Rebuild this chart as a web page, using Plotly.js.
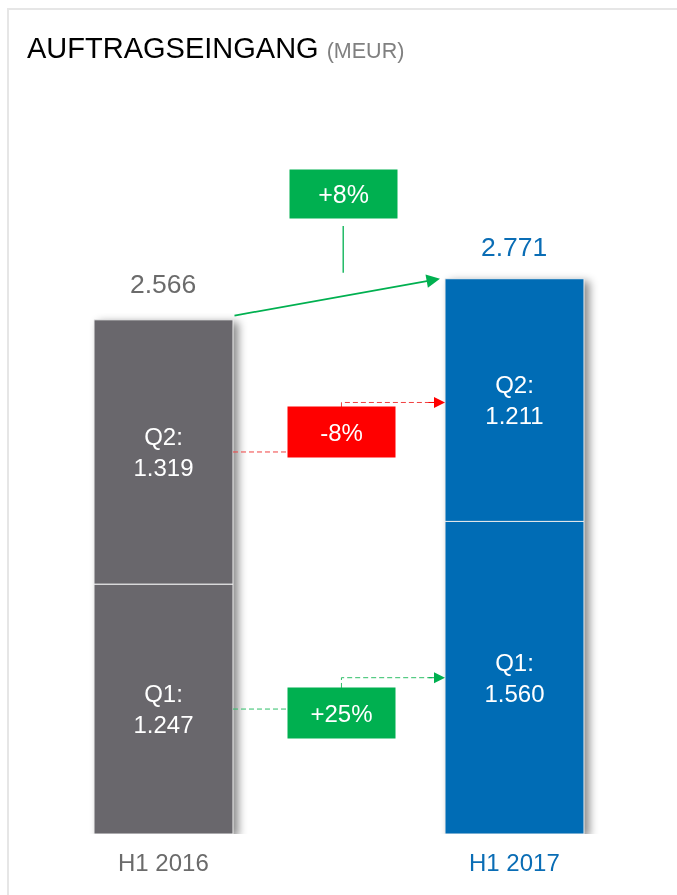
<!DOCTYPE html>
<html>
<head>
<meta charset="utf-8">
<script src="https://cdn.plot.ly/plotly-3.0.1.min.js"></script>
<style>
html,body{margin:0;padding:0;background:#fff;}
#wrap{position:relative;width:677px;height:895px;overflow:hidden;}
#chart{position:absolute;left:0;top:0;width:677px;height:895px;}
#frame{position:absolute;left:7px;top:8px;right:0;bottom:0;border-left:2px solid #e6e6e6;border-top:2px solid #e6e6e6;pointer-events:none;}
.barlayer{filter:drop-shadow(5px 3px 4px rgba(0,0,0,0.45));}
</style>
</head>
<body>
<div id="wrap"><div id="chart"></div><div id="frame"></div></div>
<script>
// ---- data (MEUR) ----
const periods = ['H1 2016', 'H1 2017'];
const q1 = [1247, 1560];
const q2 = [1319, 1211];
const quarterNames = ['Q1:', 'Q2:'];
const titleMain = 'AUFTRAGSEINGANG';
const titleUnit = '(MEUR)';

// ---- styling ----
const FONT = 'Liberation Sans, Arial, sans-serif';
const barColors = ['#69676c', '#006cb5'];
const labelColors = ['#6b6b6b', '#0a6db5'];
const GREEN = '#00b050';
const RED = '#ff0000';
const pos = v => v >= 0;

const totals = q1.map((v, i) => v + q2[i]);
const fmt = v => Math.floor(v / 1000) + '.' + String(v % 1000).padStart(3, '0');
const pct = (a, b) => { const p = Math.round((b / a - 1) * 100); return (p > 0 ? '+' : '') + p + '%'; };

const yMax = 4162;            // plot range
const pxY = 834 / yMax;       // px per unit
const barW = 0.396;
const half = barW / 2;
const boxW = 107, boxH = 50;
const boxHalfX = boxW / 2 / 351;
const boxHalfY = boxH / 2 / pxY;

const changes = [
  { from: q1[0], to: q1[1], yFrom: q1[0] / 2, yTo: q1[1] / 2, boxY: 604, boxX: 0.507 },
  { from: q2[0], to: q2[1], yFrom: q1[0] + q2[0] / 2, yTo: q1[1] + q2[1] / 2 - 12, boxY: 2006, boxX: 0.507 }
];

const traces = [
  {
    type: 'bar', x: periods, y: q1, base: [0, 0], width: barW,
    marker: { color: barColors, line: { color: '#eeeeee', width: 1 }, opacity: 1 },
    texttemplate: quarterNames[0] + '<br>%{y:,.0f}', textposition: 'inside', insidetextanchor: 'middle',
    textangle: 0, constraintext: 'none',
    textfont: { color: '#ffffff', size: 24, family: FONT }, hoverinfo: 'skip'
  },
  {
    type: 'bar', x: periods, y: q2, base: q1, width: barW,
    marker: { color: barColors, line: { color: '#eeeeee', width: 1 }, opacity: 1 },
    texttemplate: quarterNames[1] + '<br>%{y:,.0f}', textposition: 'inside', insidetextanchor: 'middle',
    textangle: 0, constraintext: 'none',
    textfont: { color: '#ffffff', size: 24, family: FONT }, hoverinfo: 'skip'
  }
];

const annotations = [];
const shapes = [];

// totals above bars
const totShift = [19, 15];
totals.forEach((t, i) => {
  annotations.push({ x: i, y: t, xref: 'x', yref: 'y', text: fmt(t), showarrow: false,
    yanchor: 'bottom', yshift: totShift[i], font: { size: 26.5, color: labelColors[i], family: FONT } });
});
// category labels
periods.forEach((p, i) => {
  annotations.push({ x: i, y: 0, xref: 'x', yref: 'y', text: p, showarrow: false,
    yanchor: 'top', yshift: -13, font: { size: 24, color: labelColors[i], family: FONT } });
});

// quarter changes
changes.forEach(c => {
  const up = pos(c.to - c.from);
  const col = up ? GREEN : RED;
  const lineCol = up ? '#2fbf68' : '#f04040';
  annotations.push({ x: c.boxX, y: c.boxY, xref: 'x', yref: 'y', text: pct(c.from, c.to), showarrow: false,
    bgcolor: col, width: boxW, height: boxH, borderpad: 0, align: 'center', valign: 'middle',
    font: { size: 24, color: '#ffffff', family: FONT } });
  shapes.push({ type: 'line', xref: 'x', yref: 'y', x0: half, x1: c.boxX - boxHalfX, y0: c.yFrom, y1: c.yFrom,
    line: { color: lineCol, width: 1, dash: '5px,3px' } });
  shapes.push({ type: 'path', xref: 'x', yref: 'y',
    path: `M ${c.boxX} ${c.boxY + boxHalfY} L ${c.boxX} ${c.yTo} L ${1 - half - 0.03} ${c.yTo}`,
    line: { color: lineCol, width: 1, dash: '5px,3px' } });
  annotations.push({ x: 1 - half, y: c.yTo, xref: 'x', yref: 'y', ax: -18, ay: 0, text: '',
    showarrow: true, arrowhead: 2, arrowsize: 2.2, arrowwidth: 1, arrowcolor: col, standoff: 0 });
});

// total change
const totBoxX = 0.512, totBoxY = 3194;
annotations.push({ x: totBoxX, y: totBoxY, xref: 'x', yref: 'y', text: pct(totals[0], totals[1]), showarrow: false,
  bgcolor: GREEN, width: boxW, height: 48, borderpad: 0, align: 'center', valign: 'middle',
  font: { size: 25, color: '#ffffff', family: FONT } });
shapes.push({ type: 'line', xref: 'x', yref: 'y', x0: totBoxX, x1: totBoxX,
  y0: totBoxY - 24 / pxY - 8 / pxY, y1: totals[1] + 6 / pxY, line: { color: GREEN, width: 1.3 } });
annotations.push({ x: 1 - half - 5 / 351, y: totals[1], xref: 'x', yref: 'y',
  ax: half, ay: totals[0] + 4 / pxY, axref: 'x', ayref: 'y', text: '',
  showarrow: true, arrowhead: 2, arrowsize: 1.5, arrowwidth: 1.8, arrowcolor: GREEN, standoff: 0 });

const layout = {
  width: 677, height: 895,
  margin: { l: 0, r: 0, t: 0, b: 61 },
  paper_bgcolor: 'rgba(0,0,0,0)', plot_bgcolor: 'rgba(0,0,0,0)',
  showlegend: false, barmode: 'overlay', separators: ',.',
  font: { family: FONT },
  title: {
    text: titleMain + ' <span style="font-size:21.5px;color:#808080">' + titleUnit + '</span>',
    font: { family: FONT, size: 29, color: '#000000' },
    xref: 'container', yref: 'container', x: 27 / 677, xanchor: 'left', y: 1 - 48 / 895, yanchor: 'middle'
  },
  xaxis: { range: [-0.4658, 1.463], visible: false, fixedrange: true },
  yaxis: { range: [0, yMax], visible: false, fixedrange: true },
  annotations: annotations,
  shapes: shapes
};

Plotly.newPlot('chart', traces, layout, { displayModeBar: false, staticPlot: true });
</script>
</body>
</html>
